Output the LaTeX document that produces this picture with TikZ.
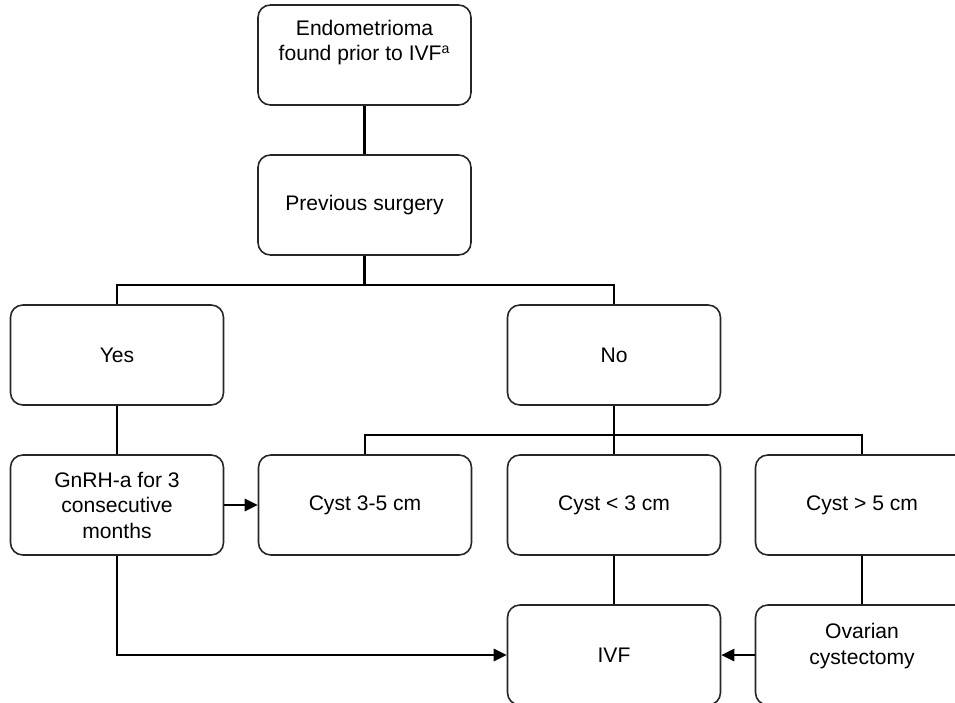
\documentclass[tikz,border=0pt]{standalone}
\usepackage{fontspec}
\setmainfont{Liberation Sans}
\usetikzlibrary{arrows.meta,positioning}
\tikzset{
  box/.style={draw=black!85,rounded corners=7pt,line width=.9pt,fill=white,
              minimum width=4.26cm,minimum height=2cm,inner sep=2pt,align=center,
              font=\fontsize{12}{14.5}\selectfont},
  link/.style={draw=black,line width=1.5pt},
  flow/.style={link,-{Triangle[length=2.6mm,width=2.4mm]}},
}

\begin{document}
\begin{tikzpicture}[x=0.02cm,y=-0.02cm]
  \useasboundingbox (0,0) rectangle (955,702);
  \clip (0,0) rectangle (955,702);
  % boxes
  \node[box] (top) at (364.5,55) {Endometrioma\\found prior to IVF\textsuperscript{a}\\[2pt]};
  \node[box] (prev) at (364.5,205) {Previous surgery};
  \node[box] (yes) at (117,355) {Yes};
  \node[box] (no) at (614,355) {No};
  \node[box] (gnrh) at (117,505) {GnRH-a for 3\\consecutive\\months};
  \node[box] (cystmid) at (365,505) {Cyst 3-5 cm};
  \node[box] (cystsmall) at (614,505) {Cyst {\textless} 3 cm};
  \node[box] (cystlarge) at (862,505) {Cyst {\textgreater} 5 cm};
  \node[box] (ivf) at (614,655) {IVF};
  \node[box] (ovar) at (862,655) {Ovarian\\cystectomy\\[-2pt]};
  % branch points
  \coordinate (split1) at (364.5,285);
  \coordinate (split2) at (614,435);
  \coordinate (bend) at (117,655);
  % tree lines
  \draw[link] (top) -- (prev);
  \draw[link] (prev) -- (split1);
  \draw[link] (yes.north) |- (split1) -| (no.north);
  \draw[link] (yes) -- (gnrh);
  \draw[link] (no) -- (split2);
  \draw[link] (cystmid.north) |- (split2) -| (cystlarge.north);
  \draw[link] (split2) -- (cystsmall);
  \draw[link] (cystsmall) -- (ivf);
  \draw[link] (cystlarge) -- (ovar);
  % arrows
  \draw[flow] (gnrh) -- (cystmid);
  \draw[flow] (gnrh) -- (bend) -- (ivf);
  \draw[flow] (ovar) -- (ivf);
\end{tikzpicture}
\end{document}
